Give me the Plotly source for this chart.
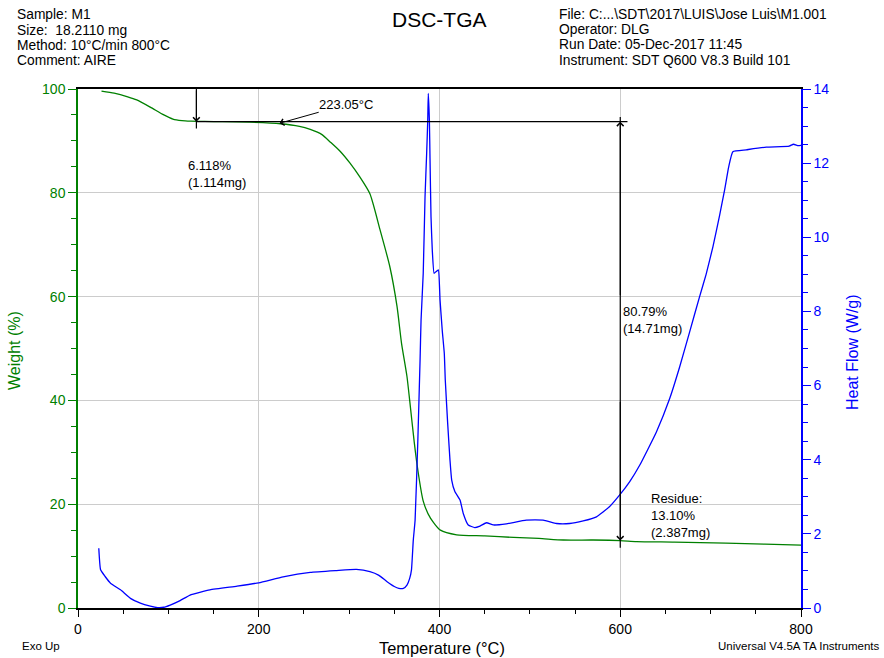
import plotly.graph_objects as go

# ---- data ----
tga_temp = [26, 40, 55, 65, 80, 95, 105, 115, 125, 140, 160, 190, 224, 245, 257, 270, 279, 290,
            301, 312, 323, 334, 345, 353, 358, 364, 367, 372, 376, 382, 390, 401, 419, 450, 482,
            510, 537, 570, 600, 618, 660, 717, 760, 800]
tga_weight = [99.6, 99.2, 98.5, 97.9, 96.5, 95.0, 94.2, 93.9, 93.8, 93.75, 93.7, 93.6, 93.3, 92.8,
              92.2, 91.2, 89.8, 88.0, 85.7, 83.0, 79.8, 73.0, 65.8, 58.1, 51.0, 44.6, 40.0, 32.0,
              26.6, 20.6, 17.3, 15.0, 14.1, 13.9, 13.6, 13.4, 13.1, 13.1, 13.0, 12.8, 12.7, 12.5,
              12.3, 12.1]

dsc_temp = [23, 25, 30, 36, 47, 58, 69, 80, 88, 95, 102, 113, 124, 146, 176, 200, 227, 257, 286,
            308, 323, 333, 342, 350, 355, 360, 364, 367, 369, 371, 373, 376, 378.5, 379.6, 382,
            384, 385.8, 387, 387.6, 388.8, 389.5, 390.6, 392, 394, 396, 398.7, 400.6, 403, 405.3,
            406.4, 409, 411.6, 413.5, 417, 422.7, 426.3, 431.8, 439, 444.8, 452, 459.5, 474, 496,
            514.7, 529.5, 544, 559, 573.7, 588, 599.4, 610.5, 621.5, 640, 654.7, 665.7, 676.8,
            687.8, 695, 702.6, 710, 715.5, 720, 724.6, 739.4, 761.5, 787, 791.6, 797, 800]
dsc_heatflow = [1.61, 1.03, 0.85, 0.67, 0.49, 0.26, 0.13, 0.05, 0.01, 0.02, 0.08, 0.20, 0.35, 0.49,
                0.59, 0.68, 0.84, 0.96, 1.01, 1.04, 0.98, 0.88, 0.71, 0.58, 0.53, 0.53, 0.62, 0.80,
                1.03, 1.83, 2.37, 4.50, 6.69, 7.77, 9.03, 11.10, 12.27, 13.16, 13.88, 13.16, 12.13,
                10.56, 9.66, 9.03, 9.07, 9.12, 8.31, 7.50, 6.87, 6.15, 5.00, 3.99, 3.45, 3.14, 2.91,
                2.55, 2.24, 2.17, 2.21, 2.30, 2.24, 2.27, 2.37, 2.37, 2.28, 2.28, 2.35, 2.46, 2.73,
                3.05, 3.41, 3.85, 4.75, 5.65, 6.50, 7.45, 8.40, 9.00, 9.75, 10.60, 11.28, 11.90,
                12.31, 12.36, 12.43, 12.46, 12.51, 12.47, 12.48]

x_ticks = [0, 200, 400, 600, 800]
left_ticks = [0, 20, 40, 60, 80, 100]
right_ticks = [0, 2, 4, 6, 8, 10, 12, 14]

header_left = ["Sample: M1", "Size:  18.2110 mg", "Method: 10°C/min 800°C", "Comment: AIRE"]
header_right = ["File: C:...\\SDT\\2017\\LUIS\\Jose Luis\\M1.001", "Operator: DLG",
                "Run Date: 05-Dec-2017 11:45", "Instrument: SDT Q600 V8.3 Build 101"]

# annotation values
onset_temp = 223.05
step_start_temp = 131
step_level = 93.7
final_temp = 600
residue_level = 13.0

GREEN = "#008000"
BLUE = "#0000ff"
FONT = "Liberation Sans, Arial, sans-serif"

fig = go.Figure()
fig.add_trace(go.Scatter(x=tga_temp, y=tga_weight, mode="lines",
                         line=dict(color=GREEN, width=1.3, shape="spline", smoothing=0.6),
                         yaxis="y", showlegend=False))
fig.add_trace(go.Scatter(x=dsc_temp, y=dsc_heatflow, mode="lines",
                         line=dict(color=BLUE, width=1.3, shape="spline", smoothing=0.4),
                         yaxis="y2", showlegend=False))

fig.update_layout(
    width=884, height=658,
    margin=dict(l=78, r=83, t=89, b=50),
    paper_bgcolor="white", plot_bgcolor="white",
    font=dict(family=FONT, size=14, color="black"),
    xaxis=dict(range=[0, 800], tickvals=x_ticks, showgrid=True, gridcolor="#cccccc",
               gridwidth=1, zeroline=False, showline=True, linecolor="black", linewidth=1.5,
               mirror=True, ticks="outside", ticklen=7, tickcolor="black",
               minor=dict(dtick=50, ticklen=4, tickcolor="black", ticks="outside", showgrid=False),
               tickfont=dict(size=14, color="black")),
    yaxis=dict(range=[0, 100], tickvals=left_ticks, showgrid=True, gridcolor="#cccccc",
               zeroline=False, showline=True, linecolor=GREEN, linewidth=1.5,
               ticks="outside", ticklen=8, tickcolor=GREEN,
               minor=dict(dtick=5, ticklen=5, tickcolor=GREEN, ticks="outside", showgrid=False),
               tickfont=dict(size=14, color=GREEN)),
    yaxis2=dict(range=[0, 14], tickvals=right_ticks, overlaying="y", side="right",
                showgrid=False, zeroline=False, showline=True, linecolor=BLUE, linewidth=1.5,
                ticks="outside", ticklen=8, tickcolor=BLUE,
                minor=dict(dtick=0.5, ticklen=5, tickcolor=BLUE, ticks="outside", showgrid=False),
                tickfont=dict(size=14, color=BLUE)),
)

ann = []
# header texts
left_ys = [14, 30, 45.5, 61]
for t, py in zip(header_left, left_ys):
    ann.append(dict(text=t, xref="paper", yref="paper", x=(15 - 78) / 723, y=(608 - py) / 519,
                    xanchor="left", yanchor="middle", showarrow=False,
                    font=dict(size=13.8, family=FONT, color="black")))
right_ys = [14, 29.5, 45, 61]
for t, py in zip(header_right, right_ys):
    ann.append(dict(text=t, xref="paper", yref="paper", x=(557 - 78) / 723, y=(608 - py) / 519,
                    xanchor="left", yanchor="middle", showarrow=False,
                    font=dict(size=13.8, family=FONT, color="black")))
ann.append(dict(text="DSC-TGA", xref="paper", yref="paper", x=(439 - 78) / 723,
                y=(608 - 20) / 519, xanchor="center", yanchor="middle", showarrow=False,
                font=dict(size=21, family=FONT, color="black")))

# axis titles
ann.append(dict(text="Weight (%)", xref="paper", yref="paper", x=(15 - 78) / 723,
                y=(608 - 351) / 519, textangle=-90, xanchor="center", yanchor="middle",
                showarrow=False, font=dict(size=16, family=FONT, color=GREEN)))
ann.append(dict(text="Heat Flow (W/g)", xref="paper", yref="paper", x=(852 - 78) / 723,
                y=(608 - 352) / 519, textangle=-90, xanchor="center", yanchor="middle",
                showarrow=False, font=dict(size=16, family=FONT, color=BLUE)))
ann.append(dict(text="Temperature (°C)", xref="paper", yref="paper", x=(442 - 78) / 723,
                y=(608 - 648) / 519, xanchor="center", yanchor="middle",
                showarrow=False, font=dict(size=16.4, family=FONT, color="black")))
ann.append(dict(text="Exo Up", xref="paper", yref="paper", x=(20 - 78) / 723,
                y=(608 - 646) / 519, xanchor="left", yanchor="middle",
                showarrow=False, font=dict(size=11.5, family=FONT, color="black")))
ann.append(dict(text="Universal V4.5A TA Instruments", xref="paper", yref="paper",
                x=(882 - 78) / 723, y=(608 - 646) / 519, xanchor="right", yanchor="middle",
                showarrow=False, font=dict(size=11.5, family=FONT, color="black")))

# analysis annotations (data coordinates)
ann.append(dict(text="223.05°C", x=264, y=97.1, xref="x", yref="y", xanchor="left",
                yanchor="middle", showarrow=False, font=dict(size=13, family=FONT)))
ann.append(dict(text="", x=onset_temp, y=93.4, ax=268, ay=95.6, xref="x", yref="y",
                axref="x", ayref="y", showarrow=True, arrowhead=4, arrowsize=1.3,
                arrowwidth=1, arrowcolor="black"))
ann.append(dict(text="", x=step_start_temp, y=step_level, ax=step_start_temp, ay=100,
                xref="x", yref="y", axref="x", ayref="y", showarrow=True, arrowhead=4,
                arrowsize=1.3, arrowwidth=1, arrowcolor="black"))
ann.append(dict(text="6.118%<br>(1.114mg)", x=119, y=87.0, xref="x", yref="y",
                xanchor="left", yanchor="top", align="left", showarrow=False,
                font=dict(size=13, family=FONT)))
ann.append(dict(text="", x=final_temp, y=step_level, ax=final_temp, ay=60, xref="x",
                yref="y", axref="x", ayref="y", showarrow=True, arrowhead=4, arrowsize=1.3,
                arrowwidth=1, arrowcolor="black"))
ann.append(dict(text="", x=final_temp, y=residue_level, ax=final_temp, ay=40, xref="x",
                yref="y", axref="x", ayref="y", showarrow=True, arrowhead=4, arrowsize=1.3,
                arrowwidth=1, arrowcolor="black"))
ann.append(dict(text="80.79%<br>(14.71mg)", x=600.5, y=58.9, xref="x", yref="y",
                xanchor="left", yanchor="top", align="left", showarrow=False,
                font=dict(size=13, family=FONT)))
ann.append(dict(text="Residue:<br>13.10%<br>(2.387mg)", x=632, y=23.0, xref="x", yref="y",
                xanchor="left", yanchor="top", align="left", showarrow=False,
                font=dict(size=13, family=FONT)))
fig.update_layout(annotations=ann)

shapes = [
    dict(type="line", xref="x", yref="y", x0=step_start_temp, x1=608, y0=step_level,
         y1=step_level, line=dict(color="black", width=1.2)),
    dict(type="line", xref="x", yref="y", x0=step_start_temp, x1=step_start_temp, y0=100,
         y1=92.4, line=dict(color="black", width=1.2)),
    dict(type="line", xref="x", yref="y", x0=final_temp, x1=final_temp, y0=94.6, y1=11.6,
         line=dict(color="black", width=1.2)),
]
fig.update_layout(shapes=shapes)

fig.write_html("out.html")
